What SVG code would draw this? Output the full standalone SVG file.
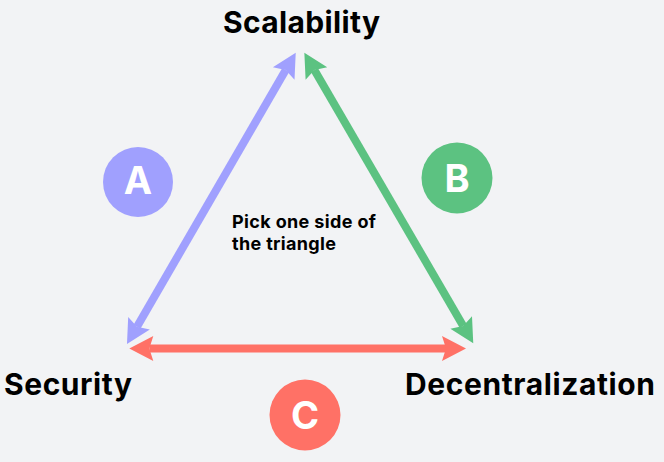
<svg xmlns="http://www.w3.org/2000/svg" width="664" height="462" viewBox="0 0 664 462">
  <style>
    .label { font-family: Inter, "Liberation Sans", Arial, sans-serif; font-weight: 700; font-size: 30px; fill: #000; }
    .note { font-family: Inter, "Liberation Sans", Arial, sans-serif; font-weight: 700; font-size: 18px; fill: #000; }
    .letter { font-family: Inter, "Liberation Sans", Arial, sans-serif; font-weight: 700; font-size: 38px; fill: #fff; text-anchor: middle; }
    .edge { stroke-width: 8; fill: none; }
  </style>
  <defs>
    <marker id="headBlue" markerUnits="userSpaceOnUse" markerWidth="40" markerHeight="40" viewBox="-10 -20 40 40" refX="0" refY="0" orient="auto-start-reverse" overflow="visible">
      <path d="M20,0 L-4,-12.5 L0,0 L-4,12.5 Z" fill="#a0a0fe"/>
    </marker>
    <marker id="headGreen" markerUnits="userSpaceOnUse" markerWidth="40" markerHeight="40" viewBox="-10 -20 40 40" refX="0" refY="0" orient="auto-start-reverse" overflow="visible">
      <path d="M20,0 L-4,-12.5 L0,0 L-4,12.5 Z" fill="#5cc281"/>
    </marker>
    <marker id="headRed" markerUnits="userSpaceOnUse" markerWidth="40" markerHeight="40" viewBox="-10 -20 40 40" refX="0" refY="0" orient="auto-start-reverse" overflow="visible">
      <path d="M20,0 L-4,-12.5 L0,0 L-4,12.5 Z" fill="#ff7166"/>
    </marker>
  </defs>
  <rect width="664" height="462" fill="#f2f3f5"/>

  <g id="connectors">
    <line class="edge" x1="285.7" y1="70.0" x2="137.0" y2="326.7" stroke="#a0a0fe" marker-start="url(#headBlue)" marker-end="url(#headBlue)"/>
    <line class="edge" x1="314.4" y1="70.0" x2="463.2" y2="326.0" stroke="#5cc281" marker-start="url(#headGreen)" marker-end="url(#headGreen)"/>
    <line class="edge" x1="149.3" y1="348.5" x2="446" y2="348.5" stroke="#ff7166" marker-start="url(#headRed)" marker-end="url(#headRed)"/>
  </g>

  <g id="scalability">
    <text class="label" x="223" y="33" textLength="157">Scalability</text>
  </g>
  <g id="security">
    <text class="label" x="4" y="395" textLength="128">Security</text>
  </g>
  <g id="decentralization">
    <text class="label" x="405" y="395" textLength="250">Decentralization</text>
  </g>
  <g id="note">
    <text class="note" x="232" y="228" textLength="144">Pick one side of</text>
    <text class="note" x="232" y="250" textLength="104">the triangle</text>
  </g>
  <g id="badge-a">
    <circle cx="138" cy="182" r="35" fill="#a0a0fe"/>
    <text class="letter" x="138" y="194">A</text>
  </g>
  <g id="badge-b">
    <circle cx="457" cy="178" r="35.5" fill="#5cc281"/>
    <text class="letter" x="457" y="192">B</text>
  </g>
  <g id="badge-c">
    <circle cx="305" cy="415" r="35.5" fill="#ff7166"/>
    <text class="letter" x="305" y="429">C</text>
  </g>
</svg>
